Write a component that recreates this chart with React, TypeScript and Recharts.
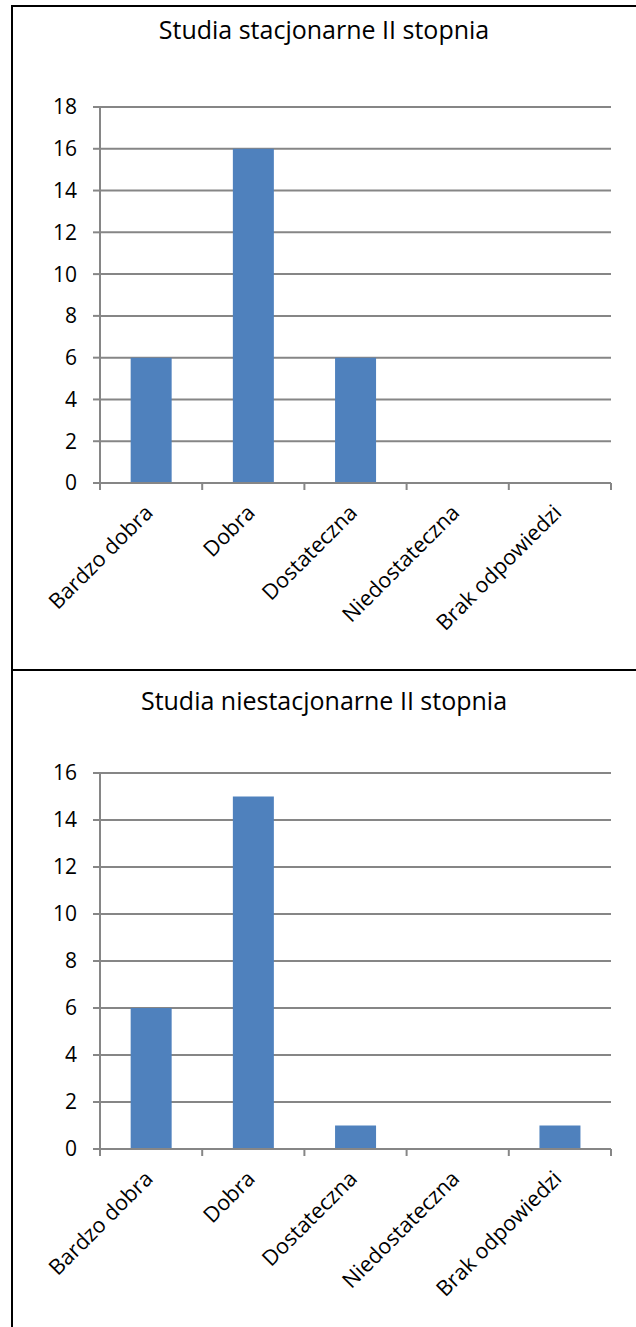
import React from 'react';
import { BarChart, Bar, XAxis, YAxis, CartesianGrid } from 'recharts';

const categories = ['Bardzo dobra', 'Dobra', 'Dostateczna', 'Niedostateczna', 'Brak odpowiedzi'];
const stacjonarne = [6, 16, 6, 0, 0];
const niestacjonarne = [6, 15, 1, 0, 1];
const ticksTop = [0, 2, 4, 6, 8, 10, 12, 14, 16, 18];
const ticksBottom = [0, 2, 4, 6, 8, 10, 12, 14, 16];
const titleTop = 'Studia stacjonarne II stopnia';
const titleBottom = 'Studia niestacjonarne II stopnia';

const FONT = '"Open Sans", sans-serif';
const GRID = '#868686';
const BAR = '#4F81BD';

const XTick = (props: any) => {
  const { x, y, payload, index, width, visibleTicksCount } = props;
  const n = visibleTicksCount || categories.length;
  const band = (width || 511) / n;
  const left = x - band / 2;
  const right = x + band / 2;
  const tx = x + 3;
  const ty = y + 31;
  return (
    <g>
      <line x1={left} y1={y} x2={left} y2={y + 7} stroke={GRID} strokeWidth={2} />
      {index === n - 1 && <line x1={right} y1={y} x2={right} y2={y + 7} stroke={GRID} strokeWidth={2} />}
      <text
        x={tx}
        y={ty}
        textAnchor="end"
        fontSize={21.5}
        fontFamily={FONT}
        fill="#000"
        transform={`rotate(-45, ${tx}, ${ty})`}
      >
        {payload.value}
      </text>
    </g>
  );
};

const Panel = ({ title, values, ticks, top, height, marginTop, titleTopPx }: any) => {
  const data = categories.map((c, i) => ({ name: c, value: values[i] }));
  const max = ticks[ticks.length - 1];
  return (
    <div style={{ position: 'absolute', left: 0, top, width: 636, height }}>
      <div
        style={{
          position: 'absolute',
          left: 12,
          width: 624,
          top: titleTopPx,
          textAlign: 'center',
          fontFamily: FONT,
          fontSize: 25,
          color: '#000',
          lineHeight: '32px',
        }}
      >
        {title}
      </div>
      <div style={{ position: 'absolute', left: 0, top: 0 }}>
        <BarChart
          width={636}
          height={height}
          data={data}
          margin={{ top: marginTop, right: 25, left: 40, bottom: height - marginTop - 376 - 120 }}
          barCategoryGap="30%"
        >
          <CartesianGrid vertical={false} stroke={GRID} strokeWidth={2} />
          <XAxis
            dataKey="name"
            interval={0}
            height={120}
            tickSize={0}
            tickMargin={0}
            tickLine={false}
            axisLine={{ stroke: GRID, strokeWidth: 2 }}
            tick={<XTick />}
          />
          <YAxis
            type="number"
            domain={[0, max]}
            ticks={ticks}
            interval={0}
            width={60}
            tickSize={7}
            tickMargin={16}
            tickLine={{ stroke: GRID, strokeWidth: 2 }}
            axisLine={{ stroke: GRID, strokeWidth: 2 }}
            tick={{ fill: '#000', fontSize: 21, fontFamily: FONT }}
          />
          <Bar dataKey="value" fill={BAR} isAnimationActive={false} />
        </BarChart>
      </div>
    </div>
  );
};

export default function App() {
  return (
    <div style={{ position: 'absolute', left: 0, top: 0, width: 636, height: 1327, background: '#fff', overflow: 'hidden' }}>
      <Panel title={titleTop} values={stacjonarne} ticks={ticksTop} top={0} height={670} marginTop={107} titleTopPx={13} />
      <Panel title={titleBottom} values={niestacjonarne} ticks={ticksBottom} top={670} height={657} marginTop={103} titleTopPx={14} />
      <div style={{ position: 'absolute', left: 11, top: 5, width: 2, height: 1322, background: '#000' }} />
      <div style={{ position: 'absolute', left: 11, top: 5, width: 625, height: 2, background: '#000' }} />
      <div style={{ position: 'absolute', left: 11, top: 669, width: 625, height: 2, background: '#000' }} />
    </div>
  );
}
